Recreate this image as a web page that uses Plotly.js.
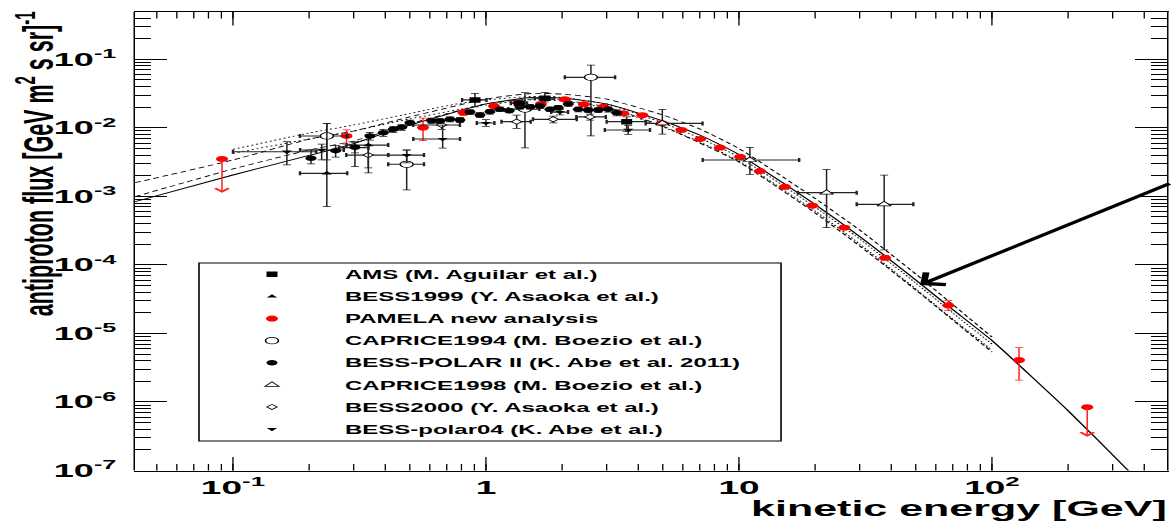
<!DOCTYPE html>
<html><head><meta charset="utf-8">
<script src="https://cdn.plot.ly/plotly-3.0.1.min.js"></script>
<style>
html,body{margin:0;padding:0;background:#fff;overflow:hidden;width:1171px;height:525px;}
#wrap{width:1171px;height:525px;overflow:hidden;position:relative;}
#chart{width:1171px;height:1050px;transform:scaleY(0.5);transform-origin:0 0;}
</style></head><body>
<div id="wrap"><div id="chart"></div></div>
<script>
// ---------------- data (kinetic energy in GeV, flux in (GeV m^2 s sr)^-1) ----------------
// axis ticks
var xTickVals  = [0.1, 1, 10, 100];
var xTickText  = ['10<sup>-1</sup>', '1', '10', '10<sup>2</sup>'];
var yTickVals  = [1e-7, 1e-6, 1e-5, 1e-4, 1e-3, 1e-2, 1e-1];
var yTickText  = ['10<sup>-7</sup>','10<sup>-6</sup>','10<sup>-5</sup>','10<sup>-4</sup>','10<sup>-3</sup>','10<sup>-2</sup>','10<sup>-1</sup>'];

// model curves
var solidE    = [0.041,0.1,0.2,0.3,0.5,1,1.5,2,3,5,7,10,20,30,50,70,100,200,342,492];
var solidFlux = [8.36e-4,2.05e-3,3.95e-3,5.9e-3,1.10e-2,2.23e-2,2.77e-2,2.72e-2,2.23e-2,1.26e-2,7.86e-3,4.08e-3,7.6e-4,2.6e-4,6.02e-5,2.23e-5,7.88e-6,7.45e-7,1.04e-7,2.48e-8];
var dashE        = [0.041,0.1,0.2,0.3,0.5,1,1.5,2,3,5,7,10,20,30,50,70,100];
var dashUpFlux   = [1.58e-3,3.39e-3,6.83e-3,8.99e-3,1.44e-2,2.63e-2,3.17e-2,3.11e-2,2.63e-2,1.54e-2,9.61e-3,4.99e-3,9.30e-4,3.23e-4,7.36e-5,2.64e-5,8.87e-6];
var dashLowFlux  = [9.89e-4,2.51e-3,4.75e-3,6.42e-3,1.14e-2,2.23e-2,2.63e-2,2.55e-2,2.01e-2,1.06e-2,6.01e-3,3.17e-3,5.72e-4,1.89e-4,4.30e-5,1.57e-5,5.36e-6];
var dotE         = [0.1,0.2,0.3,0.5,0.79,1,1.5,2,3,5,7,10,20,30,50,70,100];
var dotUpFlux    = [4.86e-3,8.41e-3,1.10e-2,1.62e-2,2.28e-2,2.55e-2,2.87e-2,2.77e-2,2.23e-2,1.18e-2,7.11e-3,3.75e-3,6.99e-4,2.39e-4,5.44e-5,1.99e-5,7.01e-6];
var dotLowFlux   = [4.25e-3,6.87e-3,8.99e-3,1.35e-2,1.86e-2,2.15e-2,2.55e-2,2.46e-2,1.95e-2,1.03e-2,6.21e-3,3.28e-3,6.11e-4,2.02e-4,4.45e-5,1.62e-5,5.73e-6];

// AMS (M. Aguilar et al.)
var amsE    = [0.905,1.354,1.71,3.6];
var amsFlux = [2.55e-2,2.28e-2,2.70e-2,1.23e-2];
var amsUp   = [6.4e-3,2.5e-3,6.0e-3,2.2e-3];
var amsDown = [5.2e-3,2.5e-3,3.0e-3,3.5e-3];
var amsExM  = [0.1,0.1,0.15,0.6];
var amsExP  = [0.1,0.1,0.15,0.7];

// BESS1999 (Y. Asaoka et al.)
var b99E    = [0.235,0.343];
var b99Flux = [2.17e-3,5.6e-3];
var b99Up   = [9.4e-3,2.3e-3];
var b99Down = [1.46e-3,3.4e-3];
var b99ExM  = [0.051,0.062];
var b99ExP  = [0.048,0.068];

// PAMELA new analysis
var pamE    = [0.281,0.564,0.815,1.076,1.34,1.65,2.05,2.44,2.91,3.49,4.15,4.96,5.92,7.03,8.41,10.1,12.1,15.2,19.5,26.1,37.8,67.2,128];
var pamFlux = [7.6e-3,1.01e-2,1.67e-2,2.08e-2,2.33e-2,2.23e-2,2.61e-2,2.20e-2,2.03e-2,1.63e-2,1.53e-2,1.17e-2,9.3e-3,6.87e-3,5.16e-3,3.78e-3,2.34e-3,1.38e-3,7.3e-4,3.49e-4,1.27e-4,2.57e-5,4.09e-6];
var pamUp   = [1.7e-3,3.7e-3,1.5e-3,1.5e-3,1.5e-3,1.4e-3,1.5e-3,1.3e-3,1.2e-3,9e-4,8e-4,6e-4,5e-4,3.5e-4,2.6e-4,2e-4,1.3e-4,8e-5,4e-5,2.2e-5,9e-6,4.5e-6,2.1e-6];
var pamDown = [1.8e-3,3.6e-3,1.5e-3,1.5e-3,1.5e-3,1.4e-3,1.5e-3,1.3e-3,1.2e-3,9e-4,8e-4,6e-4,5e-4,3.5e-4,2.6e-4,2e-4,1.3e-4,8e-5,4e-5,2.2e-5,9e-6,4.0e-6,2.0e-6];
// PAMELA upper limits
var pamUlE    = [0.0905,238];
var pamUlFlux = [3.51e-3,8.4e-7];
var pamUlLow  = [1.13e-3,3.11e-7];

// CAPRICE1994 (M. Boezio et al.)
var c94E    = [0.235,0.486,1.426,2.6];
var c94Flux = [7.6e-3,2.94e-3,1.88e-2,5.46e-2];
var c94Up   = [4.0e-3,1.8e-3,1.38e-2,2.79e-2];
var c94Down = [4.2e-3,1.7e-3,1.37e-2,4.7e-2];
var c94ExM  = [0.051,0.075,0.2,0.55];
var c94ExP  = [0.048,0.083,0.2,0.64];

// BESS-POLAR II (K. Abe et al. 2011)
var bp2E    = [0.2034,0.2546,0.3035,0.3478,0.3927,0.4302,0.4642,0.5006,0.61,0.658,0.7207,0.789,0.865,0.947,1.037,1.136,1.236,1.363,1.493,1.635,1.79,1.931,2.115,2.317,2.537,2.779,3.044,3.286];
var bp2Flux = [3.59e-3,4.64e-3,5.20e-3,7.60e-3,8.49e-3,9.52e-3,1.018e-2,1.188e-2,1.27e-2,1.258e-2,1.332e-2,1.301e-2,1.70e-2,1.54e-2,1.72e-2,1.86e-2,1.78e-2,2.03e-2,2.03e-2,2.08e-2,1.86e-2,1.97e-2,2.23e-2,1.86e-2,1.82e-2,1.82e-2,1.86e-2,1.66e-2];
var bp2Up   = [1.16e-3,9e-4,9e-4,1.0e-3,1.0e-3,1.0e-3,1.0e-3,1.1e-3,1.1e-3,1.1e-3,1.1e-3,1.1e-3,1.3e-3,1.2e-3,1.3e-3,1.4e-3,1.3e-3,1.5e-3,1.5e-3,1.5e-3,1.4e-3,1.5e-3,1.6e-3,1.5e-3,1.5e-3,1.6e-3,1.7e-3,1.7e-3];
var bp2Down = [6.2e-4,9e-4,9e-4,1.0e-3,1.0e-3,1.0e-3,1.0e-3,1.1e-3,1.1e-3,1.1e-3,1.1e-3,1.1e-3,1.3e-3,1.2e-3,1.3e-3,1.4e-3,1.3e-3,1.5e-3,1.5e-3,1.5e-3,1.4e-3,1.5e-3,1.6e-3,1.5e-3,1.5e-3,1.6e-3,1.7e-3,1.7e-3];

// CAPRICE1998 (M. Boezio et al.)
var c98E    = [4.98,11.05,22.2,37.5];
var c98Flux = [1.16e-2,3.39e-3,1.13e-3,7.66e-4];
var c98Up   = [7.0e-3,1.8e-3,1.35e-3,1.28e-3];
var c98Down = [3.5e-3,1.29e-3,7.8e-4,6.0e-4];
var c98ExM  = [0.7,3.86,5.1,8.3];
var c98ExP  = [2.2,6.25,7.0,11.4];

// BESS2000 (Y. Asaoka et al.)
var b00E    = [0.3425,0.668,1.322,1.845,2.577];
var b00Flux = [4.0e-3,1.10e-2,1.23e-2,1.33e-2,1.44e-2];
var b00Up   = [1.6e-3,1.5e-3,3.0e-3,1.5e-3,1.5e-3];
var b00Down = [1.4e-3,1.5e-3,2.5e-3,1.5e-3,1.5e-3];
var b00ExM  = [0.062,0.152,0.17,0.31,0.3];
var b00ExP  = [0.068,0.121,0.18,0.44,0.4];

// BESS-polar04 (K. Abe et al.)
var bp04E    = [0.1634,0.2242,0.3035,0.486,0.6744,1.0,1.961,3.65];
var bp04Flux = [4.48e-3,4.75e-3,5.13e-3,4.01e-3,6.87e-3,1.176e-2,1.70e-2,9.3e-3];
var bp04Up   = [1.79e-3,1.05e-3,1.14e-3,7.4e-4,4.1e-3,1.4e-3,1.5e-3,1.5e-3];
var bp04Down = [1.61e-3,1.35e-3,2.42e-3,9.4e-4,1.8e-3,1.3e-3,1.5e-3,1.3e-3];
var bp04ExM  = [0.0634,0.04,0.04,0.075,0.158,0.08,0.15,0.7];
var bp04ExP  = [0.05,0.05,0.04,0.083,0.115,0.08,0.15,0.8];

var legendNames = ['AMS (M. Aguilar et al.)','BESS1999 (Y. Asaoka et al.)','PAMELA new analysis','CAPRICE1994 (M. Boezio et al.)','BESS-POLAR II (K. Abe et al. 2011)','CAPRICE1998 (M. Boezio et al.)','BESS2000 (Y. Asaoka et al.)','BESS-polar04 (K. Abe et al.)'];

// ---------------- traces ----------------
var ERRC = '#222';
var FONT = 'Liberation Sans';
function ey(up, down, color){ return {type:'data', symmetric:false, array:up, arrayminus:down, color:color||ERRC, thickness:1.5, width:4}; }
function ex(p, m){ return {type:'data', symmetric:false, array:p, arrayminus:m, color:ERRC, thickness:2.4, width:4}; }
function line(x, y, dash, w){ return {x:x, y:y, type:'scatter', mode:'lines', line:{color:'#000', width:w||1.6, dash:dash, shape:'spline', smoothing:0.5}, showlegend:false, hoverinfo:'skip'}; }

var traces = [
  line(solidE, solidFlux, 'solid', 1.8),
  line(dashE, dashUpFlux, '6px,4px'),
  line(dashE, dashLowFlux, '6px,4px'),
  line(dotE, dotUpFlux, '2px,3px'),
  line(dotE, dotLowFlux, '2px,3px'),
  {x:pamE, y:pamFlux, type:'scatter', mode:'markers', name:legendNames[2], legendgroup:'g3', legendrank:3,
   marker:{symbol:'circle', size:12, color:'#ff0000'}, error_y:ey(pamUp, pamDown, '#ff2020')},
  {x:pamUlE, y:pamUlFlux, type:'scatter', mode:'markers', showlegend:false,
   marker:{symbol:'circle', size:12, color:'#ff0000'}},
  {x:c94E, y:c94Flux, type:'scatter', mode:'markers', name:legendNames[3], legendgroup:'g4', legendrank:4,
   marker:{symbol:'circle', size:13, color:'#fff', line:{color:'#000', width:1.5}}, error_y:ey(c94Up, c94Down), error_x:ex(c94ExP, c94ExM)},
  {x:c98E, y:c98Flux, type:'scatter', mode:'markers', name:legendNames[5], legendgroup:'g6', legendrank:6,
   marker:{symbol:'triangle-up', size:12, color:'#fff', line:{color:'#000', width:1.4}}, error_y:ey(c98Up, c98Down), error_x:ex(c98ExP, c98ExM)},
  {x:b00E, y:b00Flux, type:'scatter', mode:'markers', name:legendNames[6], legendgroup:'g7', legendrank:7,
   marker:{symbol:'diamond', size:8, color:'#fff', line:{color:'#000', width:1.3}}, error_y:ey(b00Up, b00Down), error_x:ex(b00ExP, b00ExM)},
  {x:b99E, y:b99Flux, type:'scatter', mode:'markers', name:legendNames[1], legendgroup:'g2', legendrank:2,
   marker:{symbol:'triangle-up', size:9, color:'#000'}, error_y:ey(b99Up, b99Down), error_x:ex(b99ExP, b99ExM)},
  {x:bp04E, y:bp04Flux, type:'scatter', mode:'markers', name:legendNames[7], legendgroup:'g8', legendrank:8,
   marker:{symbol:'triangle-down', size:9, color:'#000'}, error_y:ey(bp04Up, bp04Down), error_x:ex(bp04ExP, bp04ExM)},
  {x:bp2E, y:bp2Flux, type:'scatter', mode:'markers', name:legendNames[4], legendgroup:'g5', legendrank:5,
   marker:{symbol:'circle', size:11, color:'#000'}, error_y:ey(bp2Up, bp2Down)},
  {x:amsE, y:amsFlux, type:'scatter', mode:'markers', name:legendNames[0], legendgroup:'g1', legendrank:1,
   marker:{symbol:'square', size:11, color:'#000'}, error_y:ey(amsUp, amsDown), error_x:ex(amsExP, amsExM)}
];

// upper-limit arrows built from the PAMELA upper-limit arrays
var annotations = pamUlE.map(function(e, i){
  return {xref:'x', yref:'y', axref:'x', ayref:'y', x:Math.log10(e), y:Math.log10(pamUlLow[i]),
          ax:Math.log10(e), ay:Math.log10(pamUlFlux[i]), text:'', showarrow:true,
          arrowhead:4, arrowsize:1.75, arrowwidth:1.5, arrowcolor:'#ff2020', standoff:0, startstandoff:0};
});
annotations.push({xref:'paper', yref:'paper', x:-0.125, y:1.004, xanchor:'left', yanchor:'top', textangle:-90,
  text:'antiproton flux [GeV m<sup>2</sup> s sr]<sup>-1</sup>', showarrow:false, font:{family:FONT, size:43, weight:700, color:'#000'}});
annotations.push({xref:'paper', yref:'paper', x:1.002, y:-0.083, xanchor:'right', yanchor:'middle',
  text:'kinetic energy [GeV]', showarrow:false, font:{family:FONT, size:43, weight:700, color:'#000'}});
annotations.push({xref:'paper', yref:'paper', x:0.7607, y:0.4046, ax:251, ay:-204, text:'', showarrow:true,
  arrowhead:4, arrowsize:1.1, arrowwidth:5.5, arrowcolor:'#000', standoff:0});

var layout = {
  width:1171, height:1050,
  margin:{l:135, r:4, t:24, b:109, pad:0},
  paper_bgcolor:'#fff', plot_bgcolor:'#fff',
  font:{family:FONT, color:'#000', weight:700},
  showlegend:true,
  legend:{x:0.062, y:0.4519, xanchor:'left', yanchor:'top', bgcolor:'rgba(255,255,255,0)', borderwidth:0,
          font:{family:FONT, size:24, weight:700, color:'#000'}, itemwidth:136, tracegroupgap:10, traceorder:'grouped'},
  xaxis:{type:'log', range:[Math.log10(0.041), Math.log10(492)], tickmode:'array', tickvals:xTickVals, ticktext:xTickText,
         showgrid:false, zeroline:false, showline:true, linecolor:'#000', linewidth:2, mirror:'allticks',
         ticks:'inside', ticklen:27, tickwidth:1.3, tickcolor:'#000', ticklabelstandoff:0,
         tickfont:{family:FONT, size:37, weight:700, color:'#000'},
         minor:{ticks:'inside', ticklen:13, tickwidth:1.3, tickcolor:'#000', dtick:'D1', showgrid:false}},
  yaxis:{type:'log', range:[-7, -0.31], tickmode:'array', tickvals:yTickVals, ticktext:yTickText,
         showgrid:false, zeroline:false, showline:true, linecolor:'#000', linewidth:1.5, mirror:'allticks',
         ticks:'inside', ticklen:32, tickwidth:2, tickcolor:'#000', ticklabelstandoff:10,
         tickfont:{family:FONT, size:36, weight:700, color:'#000'},
         minor:{ticks:'inside', ticklen:16, tickwidth:2, tickcolor:'#000', dtick:'D1', showgrid:false}},
  shapes:[{type:'rect', xref:'paper', yref:'paper', x0:0.0620, x1:0.6260, y0:0.0643, y1:0.4526,
           line:{color:'#000', width:1.6}, fillcolor:'rgba(0,0,0,0)', layer:'above'}],
  annotations:annotations
};

Plotly.newPlot('chart', traces, layout, {staticPlot:true, displayModeBar:false});
</script></body></html>
